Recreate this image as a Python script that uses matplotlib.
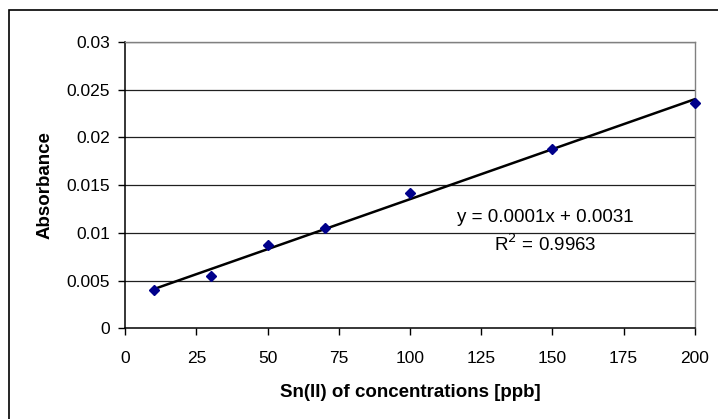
import matplotlib
matplotlib.use("Agg")
import matplotlib.pyplot as plt
import numpy as np
from matplotlib.patches import Rectangle

plt.rcParams['font.family'] = ['Liberation Sans', 'DejaVu Sans']

# data
conc = [10, 30, 50, 70, 100, 150, 200]
absorb = [0.0040, 0.00545, 0.00876, 0.0105, 0.01415, 0.01879, 0.02364]
x_ticks = [0, 25, 50, 75, 100, 125, 150, 175, 200]
y_ticks = [0, 0.005, 0.01, 0.015, 0.02, 0.025, 0.03]
y_tick_labels = ['0', '0.005', '0.01', '0.015', '0.02', '0.025', '0.03']
eq_text = 'y = 0.0001x + 0.0031'
r2_text = 'R$^2$ = 0.9963'

W, H = 718, 419
fig = plt.figure(figsize=(W / 100, H / 100), dpi=100)
fig.patch.set_facecolor('white')

# outer chart border
fig.patches.append(Rectangle((9 / W, -0.02), 1.05, 1 - 10 / H + 0.02,
                             transform=fig.transFigure, fill=False,
                             edgecolor='black', linewidth=1.2))

left, right, top, bottom = 125.3, 694.7, 42, 328.3
ax = fig.add_axes([left / W, 1 - bottom / H, (right - left) / W, (bottom - top) / H])

ax.set_xlim(0, 200)
ax.set_ylim(0, 0.03)
ax.set_xticks(x_ticks)
ax.set_yticks(y_ticks)
ax.set_yticklabels(y_tick_labels)
ax.tick_params(axis='both', direction='out', length=5, width=1, labelsize=12.5,
               colors='black')
ax.tick_params(axis='y', pad=6)
ax.tick_params(axis='x', pad=11)

for yv in y_ticks[1:]:
    ax.axhline(yv, color='#202020', linewidth=0.9, zorder=1)

for s in ['left', 'bottom']:
    ax.spines[s].set_color('black')
    ax.spines[s].set_linewidth(1.1)
for s in ['top', 'right']:
    ax.spines[s].set_color('#808080')
    ax.spines[s].set_linewidth(1.0)

# linear trendline
slope, intercept = np.polyfit(conc, absorb, 1)
xs = np.array([min(conc), max(conc)])
ax.plot(xs, slope * xs + intercept, color='black', linewidth=1.8, zorder=3)

ax.plot(conc, absorb, linestyle='none', marker='D', markersize=5.5,
        color='#00008B', zorder=4, clip_on=False)

ax.text(147.5, 0.0111, eq_text, fontsize=13.5, ha='center', va='baseline')
ax.text(147.5, 0.0081, r2_text, fontsize=13.5, ha='center', va='baseline')

ax.set_xlabel('Sn(II) of concentrations [ppb]', fontsize=13.5, fontweight='bold',
              labelpad=13)
ax.set_ylabel('Absorbance', fontsize=13.5, fontweight='bold', labelpad=9)

fig.savefig('out.png', dpi=100, facecolor='white')
